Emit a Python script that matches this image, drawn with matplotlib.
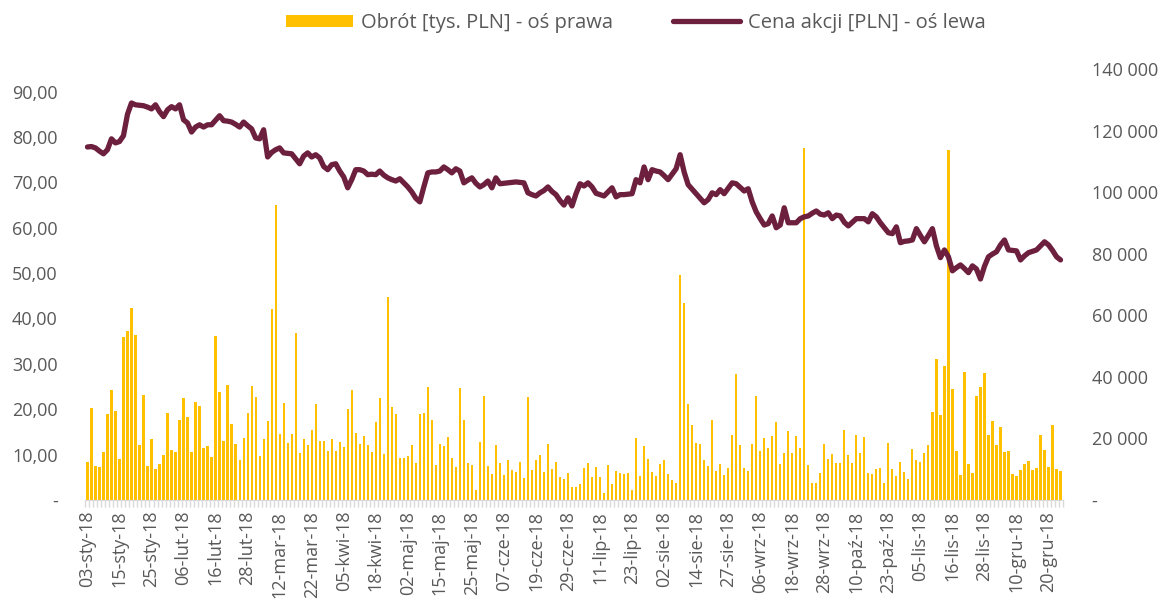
import matplotlib
matplotlib.use("Agg")
import matplotlib.pyplot as plt
from matplotlib.ticker import FuncFormatter, MultipleLocator
import numpy as np

# tick labels, one every 8 sessions
date_labels = ["03-sty-18", "15-sty-18", "25-sty-18", "06-lut-18", "16-lut-18", "28-lut-18",
               "12-mar-18", "22-mar-18", "05-kwi-18", "18-kwi-18", "02-maj-18", "15-maj-18",
               "25-maj-18", "07-cze-18", "19-cze-18", "29-cze-18", "11-lip-18", "23-lip-18",
               "02-sie-18", "14-sie-18", "27-sie-18", "06-wrz-18", "18-wrz-18", "28-wrz-18",
               "10-paź-18", "23-paź-18", "05-lis-18", "16-lis-18", "28-lis-18", "10-gru-18",
               "20-gru-18"]
label_step = 8

# stock price [PLN], one value per session
price = [
    77.8, 77.9, 77.6, 76.9, 76.3, 77.2, 79.6, 78.7, 79.0, 80.3,
    85.0, 87.5, 87.1, 87.0, 86.9, 86.6, 86.2, 87.1, 85.6, 84.5,
    86.0, 86.7, 86.2, 87.1, 83.8, 83.1, 81.1, 82.2, 82.7, 82.2,
    82.7, 82.7, 83.7, 84.7, 83.6, 83.5, 83.3, 82.8, 82.2, 83.3,
    82.5, 81.8, 79.8, 79.6, 81.6, 75.6, 76.6, 77.2, 77.6, 76.5,
    76.4, 76.3, 75.2, 74.1, 75.8, 76.5, 75.6, 76.1, 75.4, 73.5,
    72.8, 73.9, 74.1, 72.5, 71.2, 68.8, 70.6, 72.8, 72.8, 72.5,
    71.7, 71.8, 71.7, 72.5, 71.6, 71.0, 70.6, 70.3, 70.8, 69.9,
    69.0, 67.9, 66.5, 65.7, 69.0, 72.1, 72.3, 72.3, 72.5, 73.4,
    72.8, 72.1, 73.0, 72.5, 69.9, 70.5, 71.0, 69.8, 69.0, 69.5,
    70.3, 68.8, 71.0, 69.7, 69.8, 69.9, 70.0, 70.1, 70.0, 69.9,
    67.7, 67.3, 67.0, 67.7, 68.2, 69.0, 68.0, 67.3, 66.0, 65.0,
    66.6, 64.8, 67.5, 69.7, 69.2, 69.9, 69.0, 67.6, 67.3, 67.0,
    67.9, 68.8, 66.8, 67.3, 67.3, 67.4, 67.5, 70.6, 69.9, 73.4,
    70.6, 72.8, 72.5, 72.3, 71.5, 70.6, 71.8, 73.0, 76.1, 72.3,
    69.5, 68.5, 67.5, 66.5, 65.5, 66.2, 67.7, 67.3, 68.4, 67.5,
    68.7, 69.9, 69.7, 68.9, 68.1, 68.6, 65.7, 63.5, 62.0, 60.6,
    60.9, 62.6, 60.0, 60.6, 64.4, 61.1, 61.1, 61.1, 62.0, 62.4,
    62.6, 63.2, 63.7, 63.0, 62.8, 63.3, 62.0, 62.8, 62.6, 61.2,
    60.4, 61.2, 62.0, 62.0, 62.0, 61.3, 63.1, 62.4, 61.1, 60.0,
    58.9, 58.7, 60.2, 56.7, 57.0, 57.1, 57.3, 59.8, 58.3, 56.9,
    58.3, 59.8, 56.0, 53.4, 55.1, 53.6, 50.5, 51.2, 51.8, 51.0,
    50.1, 51.6, 50.9, 48.7, 51.5, 53.6, 54.2, 54.7, 56.2, 57.3,
    55.1, 55.0, 54.9, 52.9, 53.8, 54.5, 54.8, 55.1, 56.0, 56.9,
    56.2, 55.0, 53.6, 52.9,
]

# turnover [thousand PLN], one value per session
turnover = [
    12440, 29770, 11040, 10600, 15480, 27920, 35720, 29000, 13420, 52820,
    54980, 62230, 53580, 17860, 33990, 11040, 19700, 10170, 11690, 14610,
    28360, 16130, 15480, 25980, 33120, 27060, 15690, 31710, 30520, 16780,
    17430, 13960, 53360, 34960, 19050, 37230, 24790, 18180, 13100, 20020,
    28250, 36910, 33340, 14180, 19700, 25650, 62020, 95790, 21320, 31390,
    18400, 21320, 54120, 15260, 19700, 17750, 22620, 31060, 19050, 19270,
    15800, 19910, 15800, 18830, 17100, 29550, 35720, 21650, 18180, 20670,
    17970, 15480, 25330, 33120, 14830, 66020, 30090, 27820, 13750, 13530,
    14400, 17860, 12010, 27820, 28140, 36690, 26080, 11360, 18290, 17640,
    20350, 13640, 10600, 36260, 25980, 12010, 11260, 3360, 18830, 33770,
    11040, 8550, 17860, 12010, 8230, 12990, 9630, 8980, 12440, 7140,
    33340, 9630, 12990, 14500, 8980, 18180, 9960, 12440, 7360, 6930,
    8880, 4110, 4330, 5200, 10280, 11900, 7580, 10820, 7360, 2270,
    11470, 5200, 9420, 8880, 8440, 8770, 3360, 20130, 7690, 17530,
    13310, 8980, 7690, 11580, 12880, 8550, 6390, 5520, 73060, 64070,
    31280, 24460, 18610, 18180, 12990, 11040, 25980, 9520, 11800, 8230,
    10500, 21220, 40910, 17860, 10500, 9310, 18290, 33770, 15800, 20020,
    16880, 20890, 25330, 11580, 15370, 22300, 15150, 20890, 16780, 114300,
    11470, 5410, 5630, 8660, 18070, 13200, 15050, 11900, 11900, 22730,
    14610, 12120, 21000, 15370, 20350, 8880, 8330, 9960, 10280, 5520,
    18510, 10170, 7690, 12440, 9090, 6710, 16560, 12880, 12340, 15370,
    17750, 28470, 45890, 27600, 43400, 113650, 36040, 15800, 8010, 41560,
    11800, 8770, 33770, 36690, 41130, 21000, 25650, 17860, 23810, 15590,
    15800, 8330, 7690, 9850, 11800, 12660, 9630, 10280, 21110, 16130,
    10820, 24350, 9960, 9310,
]

bar_color = "#FFC000"
line_color = "#6D1F3E"
text_color = "#595959"
axis_color = "#D9D9D9"

plt.rcParams['font.family'] = ['Open Sans', 'DejaVu Sans']
plt.rcParams['font.size'] = 13

fig = plt.figure(figsize=(11.67, 6.03), dpi=100)
ax = fig.add_axes([0.0732, 0.171, 0.8373, 0.7146])
ax2 = ax.twinx()

x = np.arange(len(price))

# bars on the secondary (right) axis, line on the primary (left) axis
bars = ax2.bar(x, turnover, width=0.55, color=bar_color, zorder=1)
ax.set_zorder(ax2.get_zorder() + 1)
ax.patch.set_visible(False)
line, = ax.plot(x, price, color=line_color, linewidth=3.8, solid_joinstyle='round',
                solid_capstyle='round', zorder=3)

ax.set_xlim(-0.5, len(price) - 0.5)
ax.set_ylim(0, 95)
ax2.set_ylim(0, 140000)

ax.yaxis.set_major_locator(MultipleLocator(10))
ax2.yaxis.set_major_locator(MultipleLocator(20000))


def left_fmt(v, pos):
    if abs(v) < 1e-9:
        return "-"
    return f"{v:.2f}".replace(".", ",")


def right_fmt(v, pos):
    if abs(v) < 1e-9:
        return "-"
    return f"{int(round(v)):,}".replace(",", " ")


ax.yaxis.set_major_formatter(FuncFormatter(left_fmt))
ax2.yaxis.set_major_formatter(FuncFormatter(right_fmt))

ax.set_xticks(x[::label_step])
ax.set_xticklabels(date_labels, rotation=90)
ax.set_xticks(np.arange(len(price) + 1) - 0.5, minor=True)

for a in (ax, ax2):
    for s in a.spines.values():
        s.set_visible(False)

ax.spines['bottom'].set_visible(True)
ax.spines['bottom'].set_color(axis_color)
ax.tick_params(axis='x', which='major', length=0, pad=8, colors=text_color, labelsize=13)
ax.tick_params(axis='x', which='minor', length=5, width=1, color=axis_color)
ax.tick_params(axis='y', length=0, pad=20, colors=text_color, labelsize=13)
ax2.tick_params(axis='y', length=0, pad=21, colors=text_color, labelsize=13)

fig.legend([bars, line], ["Obrót [tys. PLN] - oś prawa", "Cena akcji [PLN] - oś lewa"],
           loc='center', bbox_to_anchor=(0.545, 0.962), ncol=2, frameon=False,
           fontsize=14.5, labelcolor=text_color, handlelength=3.3, handleheight=0.55,
           columnspacing=3.0, handletextpad=0.4)

fig.savefig("out.png", dpi=100)
